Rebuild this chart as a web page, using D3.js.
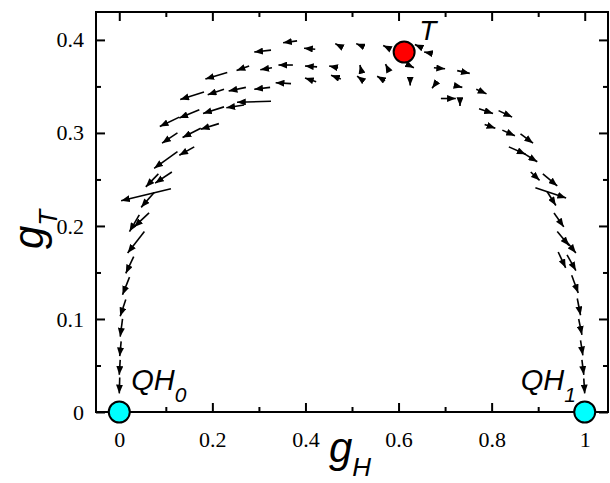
<!DOCTYPE html>
<html>
<head>
<meta charset="utf-8">
<script src="https://cdn.jsdelivr.net/npm/d3@7"></script>
<style>
  body { margin: 0; background: #fff; }
  svg { display: block; }
  .tick text { font-family: "Liberation Serif", "Times New Roman", serif; font-size: 22px; }
</style>
</head>
<body>
<div id="chart"></div>
<script>
// tick values
const xMajor = [0, 0.2, 0.4, 0.6, 0.8, 1];
const xMinor = [0.1, 0.3, 0.5, 0.7, 0.9];
const yMajor = [0, 0.1, 0.2, 0.3, 0.4];
const yMinor = [0.05, 0.15, 0.25, 0.35];

// fixed points (gH, gT)
const fixedNames = ["QH0", "QH1", "T"];
const fixedH = [0, 1, 0.612];
const fixedT = [0, 0, 0.387];

// flow arrows: [gH tail, gT tail, gH head, gT head]
const topArrows = [
  [0.326, 0.389, 0.290, 0.387], [0.382, 0.399, 0.352, 0.397], [0.421, 0.390, 0.397, 0.391],
  [0.472, 0.394, 0.464, 0.396], [0.519, 0.394, 0.509, 0.396], [0.575, 0.392, 0.567, 0.394],
  [0.644, 0.393, 0.635, 0.395], [0.665, 0.386, 0.655, 0.387],
  [0.232, 0.365, 0.185, 0.358], [0.279, 0.372, 0.252, 0.367], [0.328, 0.370, 0.303, 0.368],
  [0.373, 0.373, 0.342, 0.373], [0.425, 0.371, 0.399, 0.372], [0.470, 0.370, 0.451, 0.372],
  [0.519, 0.369, 0.517, 0.373], [0.576, 0.370, 0.572, 0.374], [0.625, 0.372, 0.633, 0.370],
  [0.676, 0.370, 0.700, 0.369], [0.726, 0.367, 0.753, 0.364],
  [0.182, 0.344, 0.131, 0.336], [0.225, 0.347, 0.190, 0.341], [0.272, 0.349, 0.235, 0.345],
  [0.324, 0.349, 0.290, 0.347], [0.369, 0.353, 0.336, 0.354], [0.423, 0.355, 0.399, 0.359],
  [0.476, 0.358, 0.455, 0.362], [0.522, 0.357, 0.511, 0.361], [0.571, 0.356, 0.554, 0.361],
  [0.625, 0.356, 0.625, 0.351], [0.678, 0.352, 0.672, 0.348], [0.719, 0.351, 0.737, 0.349],
  [0.767, 0.347, 0.789, 0.342],
  [0.326, 0.334, 0.253, 0.333], [0.268, 0.330, 0.230, 0.327], [0.225, 0.328, 0.180, 0.321],
  [0.172, 0.325, 0.129, 0.316], [0.129, 0.317, 0.087, 0.307],
  [0.691, 0.337, 0.723, 0.337], [0.732, 0.334, 0.732, 0.329], [0.773, 0.326, 0.803, 0.321],
  [0.815, 0.324, 0.844, 0.317]
];

const leftArrows = [
  [0.214, 0.310, 0.175, 0.304], [0.175, 0.305, 0.136, 0.295], [0.125, 0.300, 0.092, 0.289],
  [0.161, 0.285, 0.129, 0.276], [0.125, 0.280, 0.075, 0.262],
  [0.084, 0.256, 0.057, 0.242], [0.113, 0.258, 0.077, 0.246],
  [0.111, 0.240, 0.004, 0.227], [0.075, 0.236, 0.047, 0.220],
  [0.064, 0.214, 0.032, 0.199], [0.043, 0.212, 0.022, 0.194],
  [0.054, 0.194, 0.018, 0.171],
  [0.031, 0.167, 0.014, 0.149], [0.022, 0.145, 0.007, 0.126], [0.014, 0.121, 0.002, 0.103],
  [0.007, 0.100, 0.002, 0.081], [0.004, 0.076, 0.001, 0.060], [0.002, 0.056, 0.000, 0.040],
  [0.001, 0.037, 0.000, 0.020]
];

const rightArrows = [
  [0.785, 0.309, 0.808, 0.305], [0.823, 0.303, 0.850, 0.297], [0.862, 0.299, 0.889, 0.289],
  [0.837, 0.285, 0.873, 0.277], [0.869, 0.278, 0.898, 0.269],
  [0.884, 0.258, 0.903, 0.249], [0.910, 0.256, 0.941, 0.243],
  [0.894, 0.241, 0.960, 0.230], [0.919, 0.237, 0.938, 0.222],
  [0.934, 0.214, 0.955, 0.199],
  [0.941, 0.194, 0.966, 0.179], [0.955, 0.187, 0.981, 0.171],
  [0.943, 0.172, 0.959, 0.155], [0.962, 0.169, 0.981, 0.152],
  [0.972, 0.147, 0.986, 0.128], [0.984, 0.122, 0.991, 0.104], [0.987, 0.100, 0.994, 0.083],
  [0.991, 0.077, 0.996, 0.061], [0.994, 0.056, 0.998, 0.040], [0.998, 0.036, 1.000, 0.020]
];

function flowDiagram (chartDiv) {

    const width = 610
    const height = 483
    const margin = {top: 12, right: 2, bottom: 71, left: 96}
    const innerW = width - margin.left - margin.right
    const innerH = height - margin.top - margin.bottom

    const svg = d3.select(chartDiv)
        .append("svg")
        .attr("width", width)
        .attr("height", height)
        .style("background", "#fff");

    const g = svg.append("g")
        .attr("transform", `translate(${margin.left},${margin.top})`);

    const x = d3.scaleLinear().domain([-0.05, 1.05]).range([0, innerW]);
    const y = d3.scaleLinear().domain([0, 0.43]).range([innerH, 0]);

    // arrow head marker
    svg.append("defs").append("marker")
        .attr("id", "head")
        .attr("viewBox", "0 0 10 8")
        .attr("refX", 10)
        .attr("refY", 4)
        .attr("markerWidth", 9)
        .attr("markerHeight", 7)
        .attr("markerUnits", "userSpaceOnUse")
        .attr("orient", "auto")
        .append("path")
        .attr("d", "M0,0L10,4L0,8Z")
        .attr("fill", "#000");

    // axes: major + minor ticks, all pointing inward, on all four sides
    const tickFont = "Liberation Serif";
    const fmtX = d => d === 0 || d === 1 ? String(d) : d3.format(".1f")(d);
    const fmtY = d => d === 0 ? "0" : d3.format(".1f")(d);

    g.append("g").attr("transform", `translate(0,${innerH})`)
        .call(d3.axisBottom(x).tickValues(xMajor).tickSize(-9).tickPadding(19).tickFormat(fmtX));
    g.append("g").attr("transform", `translate(0,${innerH})`)
        .call(d3.axisBottom(x).tickValues(xMinor).tickSize(-5).tickFormat(""));
    g.append("g")
        .call(d3.axisTop(x).tickValues(xMajor).tickSize(-9).tickFormat(""));
    g.append("g")
        .call(d3.axisTop(x).tickValues(xMinor).tickSize(-5).tickFormat(""));

    g.append("g")
        .call(d3.axisLeft(y).tickValues(yMajor).tickSize(-9).tickPadding(12).tickFormat(fmtY));
    g.append("g")
        .call(d3.axisLeft(y).tickValues(yMinor).tickSize(-5).tickFormat(""));
    g.append("g").attr("transform", `translate(${innerW},0)`)
        .call(d3.axisRight(y).tickValues(yMajor).tickSize(-9).tickFormat(""));
    g.append("g").attr("transform", `translate(${innerW},0)`)
        .call(d3.axisRight(y).tickValues(yMinor).tickSize(-5).tickFormat(""));

    g.selectAll(".domain").remove();
    g.selectAll(".tick line").attr("stroke", "#000").attr("stroke-width", 2);
    g.selectAll(".tick text")
        .attr("fill", "#000")
        .attr("font-family", tickFont)
        .attr("font-size", 22);

    // frame
    g.append("rect")
        .attr("width", innerW)
        .attr("height", innerH)
        .attr("fill", "none")
        .attr("stroke", "#000")
        .attr("stroke-width", 2);

    // flow arrows
    const arrows = topArrows.concat(leftArrows, rightArrows);
    g.selectAll(".flow")
        .data(arrows)
        .enter()
        .append("line")
        .attr("class", "flow")
        .attr("x1", d => x(d[0]))
        .attr("y1", d => y(d[1]))
        .attr("x2", d => x(d[2]))
        .attr("y2", d => y(d[3]))
        .attr("stroke", "#000")
        .attr("stroke-width", 1.6)
        .attr("marker-end", "url(#head)");

    // fixed points
    const fillFor = name => name === "T" ? "#ff0000" : "#00ffff";
    g.selectAll(".fixed")
        .data(fixedNames)
        .enter()
        .append("circle")
        .attr("class", "fixed")
        .attr("cx", (d, i) => x(fixedH[i]))
        .attr("cy", (d, i) => y(fixedT[i]))
        .attr("r", 10.5)
        .attr("fill", d => fillFor(d))
        .attr("stroke", "#000")
        .attr("stroke-width", 2);

    // fixed point labels
    const sans = "'Liberation Sans', Arial, Helvetica, sans-serif";
    const qh0 = g.append("text")
        .attr("x", x(fixedH[0]) + 12)
        .attr("y", y(fixedT[0]) - 22)
        .style("font-family", sans).style("font-style", "italic").style("font-size", "29px");
    qh0.append("tspan").text("QH");
    qh0.append("tspan").attr("dy", 12).style("font-size", "21px").text("0");

    const qh1 = g.append("text")
        .attr("x", x(fixedH[1]) - 64)
        .attr("y", y(fixedT[1]) - 22)
        .style("font-family", sans).style("font-style", "italic").style("font-size", "29px");
    qh1.append("tspan").text("QH");
    qh1.append("tspan").attr("dy", 12).style("font-size", "21px").text("1");

    g.append("text")
        .attr("x", x(fixedH[2]) + 15)
        .attr("y", y(fixedT[2]) - 12)
        .style("font-family", sans).style("font-style", "italic").style("font-size", "28px")
        .text("T");

    // axis titles
    const xt = svg.append("text")
        .attr("x", 329)
        .attr("y", 462)
        .style("font-family", sans).style("font-style", "italic").style("font-size", "42px");
    xt.append("tspan").text("g");
    xt.append("tspan").attr("dy", 14).style("font-size", "26px").text("H");

    const yt = svg.append("text")
        .attr("transform", "translate(43,249) rotate(-90)")
        .style("font-family", sans).style("font-style", "italic").style("font-size", "42px");
    yt.append("tspan").text("g");
    yt.append("tspan").attr("dy", 14).style("font-size", "26px").text("T");
}

document.addEventListener("DOMContentLoaded", function() {
    flowDiagram("#chart");
});
</script>
</body>
</html>
